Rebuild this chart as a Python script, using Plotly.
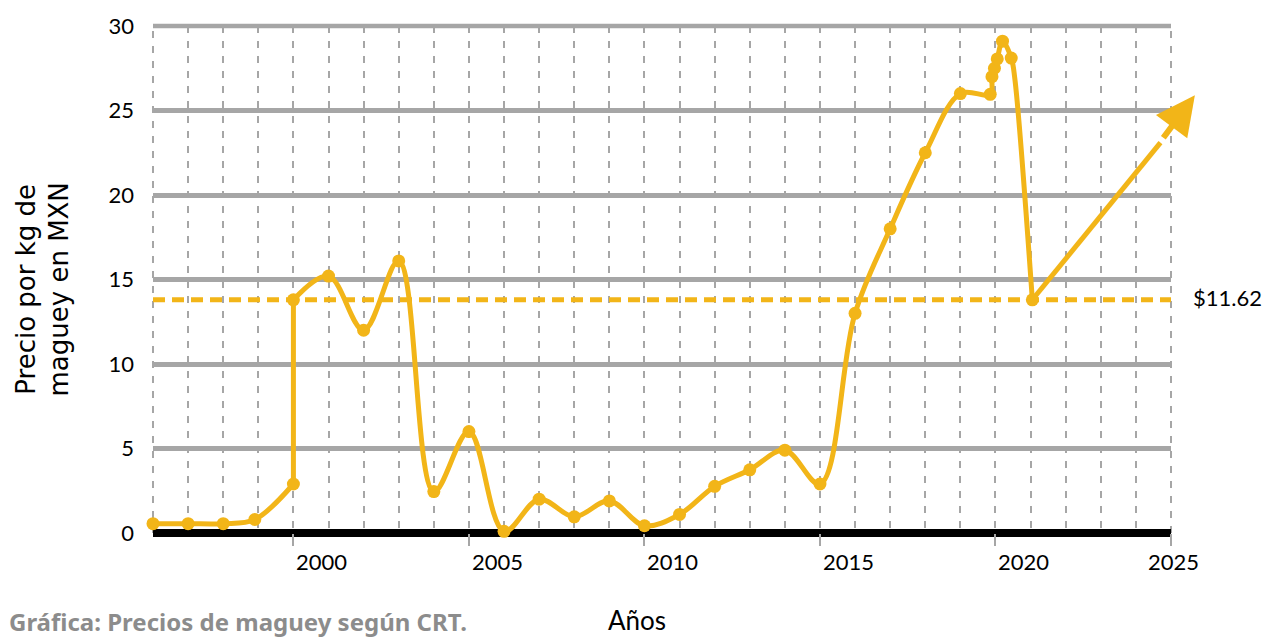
import plotly.graph_objects as go

# ---- data ----
years = [1996, 1997, 1998, 1998.9, 2000, 2000, 2001, 2002, 2003, 2004, 2005, 2006,
         2007, 2008, 2009, 2010, 2011, 2012, 2013, 2014, 2015, 2016, 2017, 2018, 2019,
         2019.85, 2019.9, 2019.97, 2020.05, 2020.2, 2020.45, 2020.55, 2021.05]
prices = [0.55, 0.55, 0.55, 0.8, 2.9, 13.8, 15.2, 12.0, 16.1, 2.45, 6.0, 0.1,
          2.0, 0.96, 1.9, 0.43, 1.1, 2.76, 3.74, 4.9, 2.9, 13.0, 18.0, 22.5, 26.0,
          25.96, 27.0, 27.5, 28.05, 29.1, 28.1, 26.9, 13.8]
has_marker = [True] * 31 + [False, True]

trend_years = [2021.05, 2024.7]
trend_prices = [13.8, 23.1]
arrow_years = [2024.75, 2025.68]
arrow_prices = [23.3, 25.9]

reference_price = 13.8
reference_label = "$11.62"

tick_years = [2000, 2005, 2010, 2015, 2020, 2025]
tick_texts = ["2000", "2005", "2010", "2015", "2020", "2025"]
y_ticks = [0, 5, 10, 15, 20, 25, 30]

x_range = [1996, 2025]
y_range = [0, 30]

y_title = "Precio por kg de<br>maguey en MXN"
x_title = "Años"
caption = "Gráfica: Precios de maguey según CRT."

YELLOW = "#F2B518"
GRID = "#A6A6A6"
FONT = "Lato"
DASH_GRID = "7px,8px"

fig = go.Figure()

# reference dashed line
fig.add_trace(go.Scatter(
    x=x_range, y=[reference_price, reference_price], mode="lines",
    line=dict(color=YELLOW, width=5, dash="12px,7px"),
    hoverinfo="skip", showlegend=False))

# main smoothed line, split where the series jumps vertically (same year twice)
breaks = [i for i in range(1, len(years)) if years[i] == years[i - 1]]
starts = [0] + breaks
ends = [b - 1 for b in breaks] + [len(years) - 1]
for s, e in zip(starts, ends):
    fig.add_trace(go.Scatter(
        x=years[s:e + 1], y=prices[s:e + 1], mode="lines",
        line=dict(color=YELLOW, width=5, shape="spline", smoothing=1.0),
        cliponaxis=False, showlegend=False))
for b in breaks:
    fig.add_trace(go.Scatter(
        x=years[b - 1:b + 1], y=prices[b - 1:b + 1], mode="lines",
        line=dict(color=YELLOW, width=5),
        cliponaxis=False, showlegend=False))

# trend line
fig.add_trace(go.Scatter(
    x=trend_years, y=trend_prices, mode="lines",
    line=dict(color=YELLOW, width=5),
    cliponaxis=False, showlegend=False))

# markers
mx = [x for x, m in zip(years, has_marker) if m]
my = [y for y, m in zip(prices, has_marker) if m]
fig.add_trace(go.Scatter(
    x=mx, y=my, mode="markers",
    marker=dict(color=YELLOW, size=13),
    cliponaxis=False, showlegend=False))

annotations = []
# arrow head
annotations.append(dict(
    x=arrow_years[1], y=arrow_prices[1], ax=arrow_years[0], ay=arrow_prices[0],
    xref="x", yref="y", axref="x", ayref="y", text="", showarrow=True,
    arrowhead=2, arrowsize=1.3, arrowwidth=6, arrowcolor=YELLOW))

# x tick labels
for yv, t in zip(tick_years, tick_texts):
    last = yv == tick_years[-1]
    annotations.append(dict(
        x=yv, y=0, xref="x", yref="paper", text=t, showarrow=False,
        xanchor="center" if last else "left", yanchor="middle",
        xshift=2 if last else 1, yshift=-28,
        font=dict(family=FONT, size=22, color="#000")))

# reference label
annotations.append(dict(
    x=1, y=reference_price, xref="paper", yref="y", text=reference_label,
    showarrow=False, xanchor="left", yanchor="middle", xshift=20, yshift=2,
    font=dict(family=FONT, size=22, color="#000")))

# y title
annotations.append(dict(
    x=0, y=0.5, xref="paper", yref="paper", text=y_title, showarrow=False,
    textangle=-90, xanchor="center", yanchor="middle", xshift=-111, yshift=-10,
    font=dict(family="DejaVu Sans", size=26, color="#000")))

# x title
annotations.append(dict(
    x=0.475, y=0, xref="paper", yref="paper", text=x_title, showarrow=False,
    xanchor="center", yanchor="middle", yshift=-87,
    font=dict(family=FONT, size=26, color="#000")))

# caption
annotations.append(dict(
    x=0, y=0, xref="paper", yref="paper", text="<b>" + caption + "</b>",
    showarrow=False, xanchor="left", yanchor="middle", xshift=-146, yshift=-88,
    font=dict(family="Noto Sans", size=24, color="#8C8C8C")))

# grid lines at the frame edges (Plotly skips grid lines that sit on the frame)
shapes = [
    dict(type="line", xref="paper", yref="paper", x0=0, x1=1, y0=1, y1=1,
         line=dict(color=GRID, width=4.5), layer="below"),
]
for xp in [0, 1]:
    shapes.append(dict(type="line", xref="paper", yref="paper", x0=xp, x1=xp, y0=0, y1=1,
                       line=dict(color=GRID, width=2, dash=DASH_GRID), layer="below"))

fig.update_layout(
    width=1267, height=637,
    margin=dict(l=153, r=96, t=21, b=104),
    plot_bgcolor="white", paper_bgcolor="white",
    annotations=annotations, shapes=shapes,
    xaxis=dict(
        range=x_range, tickvals=tick_years, showticklabels=False,
        ticks="outside", ticklen=12, tickwidth=2, tickcolor=GRID,
        showgrid=True, gridcolor=GRID, gridwidth=2, griddash=DASH_GRID,
        minor=dict(dtick=1, showgrid=True, gridcolor=GRID, gridwidth=2,
                   griddash=DASH_GRID, ticks=""),
        zeroline=False, showline=False, fixedrange=True),
    yaxis=dict(
        range=y_range, tickvals=y_ticks,
        showgrid=True, gridcolor=GRID, gridwidth=4.5,
        zeroline=True, zerolinecolor="#000", zerolinewidth=8,
        showline=False, ticks="", ticklabelstandoff=18,
        tickfont=dict(family=FONT, size=22, color="#000"), fixedrange=True),
    showlegend=False,
)

fig.write_html("out.html", config={"displayModeBar": False},
               post_script="document.body.style.margin='0';")
